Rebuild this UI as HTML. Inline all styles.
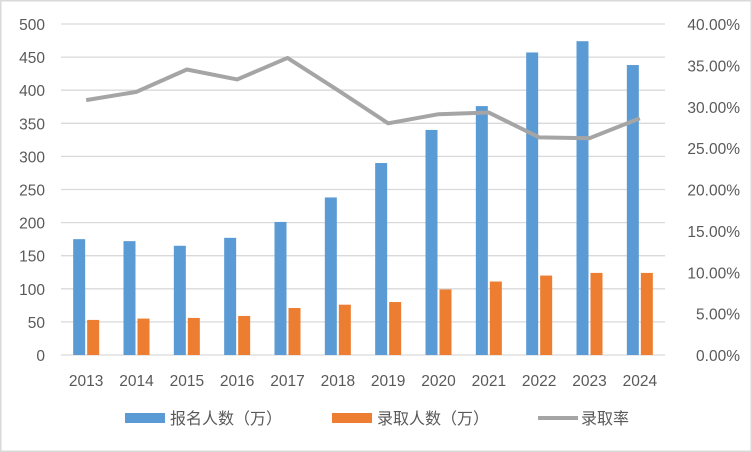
<!DOCTYPE html>
<html><head><meta charset="utf-8"><style>
body{margin:0;background:#fff}
svg{display:block}
text{font-family:"Liberation Sans","Noto Sans CJK SC",sans-serif;fill:#595959}
</style></head><body>
<svg width="752" height="452" viewBox="0 0 752 452">
<rect x="0.5" y="0.5" width="751" height="451" fill="#fff" stroke="#d9d9d9" stroke-width="2"/>
<g id="grid" stroke="#d9d9d9" stroke-width="1.3"></g>
<g id="bars"></g>
<polyline id="line" fill="none" stroke="#a5a5a5" stroke-width="4" stroke-linejoin="round"/>
<g id="lab" font-size="15.5"></g>
<rect x="125" y="413" width="40" height="10" fill="#5b9bd5"/>
<text x="170" y="424" font-size="16">报名人数（万）</text>
<rect x="332" y="413" width="40" height="10" fill="#ed7d31"/>
<text x="377" y="424" font-size="16">录取人数（万）</text>
<line x1="538" y1="418" x2="578" y2="418" stroke="#a5a5a5" stroke-width="4"/>
<text x="581" y="424" font-size="16">录取率</text>
</svg>
<script>
(function(){
var ns="http://www.w3.org/2000/svg";
function el(t,a,p,txt){var e=document.createElementNS(ns,t);for(var k in a)e.setAttribute(k,a[k]);if(txt!=null)e.textContent=txt;document.getElementById(p).appendChild(e);}
var y0=355,topY=24,L=61,R=665,w=(R-L)/12;
for(var i=0;i<=10;i++){var y=y0-(y0-topY)*i/10;
el('line',{x1:L,x2:R,y1:y,y2:y},'grid');
el('text',{x:45,y:y+6,'text-anchor':'end'},'lab',String(i*50));}
for(var i=0;i<=8;i++){var y=y0-(y0-topY)*i/8;
el('text',{x:740,y:y+6,'text-anchor':'end'},'lab',(i*5).toFixed(2)+'%');}
var a=[175,172,165,177,201,238,290,340,376,457,474,438];
var b=[53,55,56,59,71,76,80,99,111,120,124,124];
var r=[30.8,31.8,34.5,33.3,35.9,32.0,28.0,29.1,29.3,26.3,26.2,28.6];
var pts=[];var s=(y0-topY)/500;
for(var j=0;j<12;j++){var c=L+w/2+w*j;
el('rect',{x:c-13,y:y0-a[j]*s,width:12,height:a[j]*s,fill:'#5b9bd5'},'bars');
el('rect',{x:c+1,y:y0-b[j]*s,width:12,height:b[j]*s,fill:'#ed7d31'},'bars');
pts.push(c+','+(y0-r[j]/40*(y0-topY)));
el('text',{x:c,y:386,'text-anchor':'middle'},'lab',String(2013+j));}
document.getElementById('line').setAttribute('points',pts.join(' '));
})();
</script>
</body></html>
